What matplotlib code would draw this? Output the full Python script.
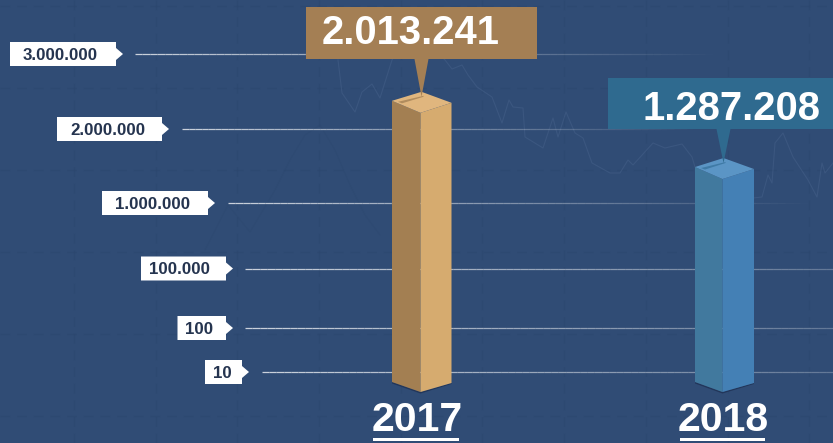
import numpy as np
import matplotlib
matplotlib.use("Agg")
import matplotlib.pyplot as plt
from matplotlib.collections import LineCollection
from matplotlib.patches import Polygon, Rectangle

# chart values
years = ["2017", "2018"]
value_labels = ["2.013.241", "1.287.208"]
# bar heights as they read against the axis (2017 is drawn taller than its label says)
bar_heights = [2216000, 1324000]

axis_values = [10, 100, 100000, 1000000, 2000000, 3000000]
axis_labels = ["10", "100", "100.000", "1.000.000", "2.000.000", "3.000.000"]

# faint line chart behind everything, in picture pixels
curve_x = [338, 342, 355, 362, 372, 380, 392, 402, 415, 445, 452, 462, 468, 477, 492, 502, 509, 513, 523,
           525, 543, 553, 558, 566, 575, 583, 592, 610, 620, 628, 633, 653, 665, 682, 692, 695]
curve_y = [60, 93, 112, 92, 84, 98, 60, 40, 30, 60, 69, 65, 75, 87, 97, 123, 100, 107, 108,
           137, 148, 118, 137, 112, 133, 138, 163, 173, 173, 160, 165, 143, 148, 144, 157, 167]
curve2_x = [753, 762, 768, 772, 775, 783, 793, 808, 817, 822, 825, 833]
curve2_y = [198, 197, 175, 183, 143, 133, 157, 180, 197, 163, 173, 163]
dark_x = [205, 228, 250, 275, 290, 305, 320, 335, 350, 365, 380]
dark_y = [250, 205, 232, 190, 160, 135, 125, 150, 185, 215, 235]

W, H = 833, 443
BG = "#304c75"
GRID = "#2b466d"

# the axis is uneven, so the scale runs through the tick rows
axis_rows = [372, 328, 268.5, 203, 129, 54]
knot_values = np.array([-51, 0] + axis_values + [3730000], dtype=float)
knot_rows = np.array([H, 392] + axis_rows + [0], dtype=float)
knot_up = H - knot_rows


def forward(v):
    return np.interp(v, knot_values, knot_up)


def inverse(r):
    return np.interp(r, knot_up, knot_values)


fig = plt.figure(figsize=(W / 100, H / 100), dpi=100, facecolor=BG)
plt.rcParams["font.family"] = ["Liberation Sans", "DejaVu Sans"]

# pixel layer for the backdrop and the shapes
px = fig.add_axes([0, 0, 1, 1], zorder=0)
px.set_xlim(0, W)
px.set_ylim(H, 0)
px.axis("off")

ax = fig.add_axes([0, 0, 1, 1], zorder=1)
ax.set_yscale("function", functions=(forward, inverse))
ax.set_xlim(0, W)
ax.set_ylim(knot_values[0], knot_values[-1])
ax.axis("off")

for gx in np.arange(74, W, 81.7):
    px.plot([gx, gx], [0, H], color=GRID, lw=1, ls=(0, (7, 5)), alpha=0.45)
for gy in np.arange(6, H, 82):
    px.plot([0, W], [gy, gy], color=GRID, lw=1, ls=(0, (7, 5)), alpha=0.45)

px.plot(curve_x, curve_y, color="#46618a", lw=0.8, alpha=0.5)
px.plot(curve2_x, curve2_y, color="#46618a", lw=0.8, alpha=0.5)
px.plot(dark_x, dark_y, color=GRID, lw=0.8, alpha=0.3)

# tick lines, fading to the right
line_start = [262, 245, 245, 228, 182, 135]
line_end = [833, 833, 833, 815, 700, 720]
line_fade = [0.25, 0.25, 0.25, 0.0, 0.0, 0.0]
for val, x0, x1, fade in zip(axis_values, line_start, line_end, line_fade):
    xs = np.linspace(x0, x1, 80)
    segs = [[(a, val), (b, val)] for a, b in zip(xs[:-1], xs[1:])]
    alphas = np.linspace(0.75, fade, len(segs))
    lc = LineCollection(segs, colors=[(1, 1, 1, a) for a in alphas], linewidths=0.9, zorder=2)
    ax.add_collection(lc, autolim=False)

# tick label tags
box_left = [205, 177.5, 141, 102, 57, 10]
box_right = [242, 226, 226, 208, 162, 116]
text_left = [213, 185, 149, 115, 70, 23]
for val, lab, x0, x1, tx in zip(axis_values, axis_labels, box_left, box_right, text_left):
    row = forward(val)
    row = H - row
    tag = [(x0, row - 12), (x1, row - 12), (x1, row - 6), (x1 + 7, row), (x1, row + 6), (x1, row + 12), (x0, row + 12)]
    ax.add_patch(Polygon(tag, closed=True, fc="white", ec="none", transform=px.transData, zorder=3))
    ax.text(tx, row + 1.5, lab, transform=px.transData, color="#25344f", fontsize=12.2, fontweight="bold",
            ha="left", va="center", zorder=4)


def to_px(x, v):
    return px.transData.inverted().transform(ax.transData.transform((x, v)))


def add_poly(points, colour, z=5):
    ax.add_patch(Polygon(points, closed=True, fc=colour, ec="none", transform=px.transData, zorder=z))


# bars: front corner at x, with the box faces either side
bar_front = [420.5, 722.5]
half_left = [28.5, 27.5]
half_right = [31, 31.5]
side_colours = [("#a37f52", "#d6ab6f", "#e0b67e", "#b08c5e"), ("#41799e", "#4480b5", "#5b95c5", "#3f7aa6")]
box_rect = [(306, 7, 231, 52), (608, 78, 225, 51)]
box_colours = ["#a47f54", "#2f6a8f"]
text_x = [411, 731.5]
text_y = [33, 108.5]
year_x = [417, 723.5]
rule_x = [(373, 459), (680, 765)]

for i in range(len(years)):
    cx = bar_front[i]
    _, top = to_px(cx, bar_heights[i])
    _, base = to_px(cx, 0)
    xl, xr = cx - half_left[i], cx + half_right[i]
    c_left, c_right, c_top, c_slit = side_colours[i]

    # soft shadow under the base
    add_poly([(xl, base - 10), (cx, base), (xr, base - 9), (xr, base - 8), (cx, base + 1.5), (xl, base - 8.5)], "#22365a", 4)
    add_poly([(xl, top - 12), (cx, top), (cx, base), (xl, base - 10)], c_left)
    add_poly([(cx, top), (xr, top - 10), (xr, base - 9), (cx, base)], c_right)
    add_poly([(xl, top - 12), (cx + 1, top - 21), (xr, top - 10), (cx, top)], c_top, 6)
    # small slit where the pointer lands
    add_poly([(xl + 6, top - 11), (cx + 3, top - 17), (cx + 3, top - 16), (xl + 10, top - 9.5)], c_slit, 7)

    # callout
    bx, by, bw, bh = box_rect[i]
    ax.add_patch(Rectangle((bx, by), bw, bh, fc=box_colours[i], ec="none", transform=px.transData, zorder=8))
    add_poly([(cx - 6, by + bh), (cx + 8, by + bh), (cx + 1, top - 16)], box_colours[i], 8)
    ax.text(text_x[i], text_y[i], value_labels[i], transform=px.transData, color="white", fontsize=28.8,
            fontweight="bold", ha="center", va="center", zorder=9)

    # year with its underline
    ax.text(year_x[i], 420, years[i], transform=px.transData, color="white", fontsize=29.5,
            fontweight="bold", ha="center", va="center", zorder=9)
    ax.add_patch(Rectangle((rule_x[i][0], 437.5), rule_x[i][1] - rule_x[i][0], 3, fc="white", ec="none",
                           transform=px.transData, zorder=9))

fig.savefig("out.png", dpi=100, facecolor=BG)
